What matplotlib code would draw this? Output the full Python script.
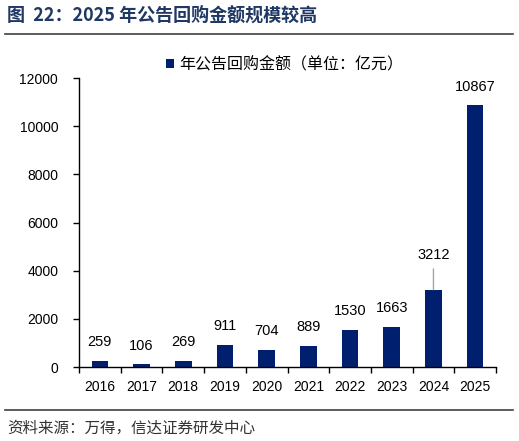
import matplotlib
matplotlib.use("Agg")
import matplotlib.pyplot as plt
from matplotlib.lines import Line2D

# data
years = ["2016", "2017", "2018", "2019", "2020", "2021", "2022", "2023", "2024", "2025"]
amounts = [259, 106, 269, 911, 704, 889, 1530, 1663, 3212, 10867]
yticks = [0, 2000, 4000, 6000, 8000, 10000, 12000]

title = "图  22：2025 年公告回购金额规模较高"
legend_label = "年公告回购金额（单位：亿元）"
source = "资料来源：万得，信达证券研发中心"

cjk = ["Noto Sans CJK SC", "DejaVu Sans"]
num = ["Liberation Sans", "DejaVu Sans"]
bar_color = "#00206F"

fig = plt.figure(figsize=(5.19, 4.41), dpi=100)
ax = fig.add_axes([0.1522, 0.1678, 0.8035, 0.6553])

x = list(range(len(years)))
bars = ax.bar(x, amounts, width=0.4, color=bar_color, label=legend_label)

ax.set_xlim(-0.5, len(years) - 0.5)
ax.set_ylim(0, 12000)
ax.set_yticks(yticks)
ax.set_xticks(x)
ax.set_xticklabels(years, fontfamily=num, fontsize=10)
ax.set_yticklabels([str(v) for v in yticks], fontfamily=num, fontsize=10)
ax.set_xticks([i - 0.5 for i in range(len(years) + 1)], minor=True)
ax.tick_params(axis="x", which="major", length=0, pad=9)
ax.tick_params(axis="x", which="minor", length=4, width=1, direction="out")
ax.tick_params(axis="y", length=4, width=1, direction="out", pad=11)

for s in ["top", "right"]:
    ax.spines[s].set_visible(False)
for s in ["left", "bottom"]:
    ax.spines[s].set_linewidth(1)
    ax.spines[s].set_color("black")

# value labels
for i, v in enumerate(amounts):
    if years[i] == "2024":
        ax.annotate(str(v), xy=(i, v), xytext=(0, 25), textcoords="offset points",
                    ha="center", va="center", fontsize=10.5, fontfamily=num,
                    arrowprops=dict(arrowstyle="-", color="#A6A6A6", lw=1,
                                    shrinkA=3, shrinkB=0))
    else:
        ax.annotate(str(v), xy=(i, v), xytext=(0, 13.5), textcoords="offset points",
                    ha="center", va="center", fontsize=10.5, fontfamily=num)

# legend
fig.legend(handles=[bars], labels=[legend_label], loc="center",
           bbox_to_anchor=(0.548, 0.853), frameon=False,
           prop={"family": cjk, "size": 11.5},
           handlelength=0.5, handleheight=0.5, handletextpad=0.3)

# title and source
fig.text(7 / 519, 1 - 15 / 441, title, ha="left", va="center", fontsize=13,
         fontweight="bold", color="#1F3864", fontfamily=cjk)
fig.add_artist(Line2D([5 / 519, 513 / 519], [1 - 34 / 441, 1 - 34 / 441],
                      color="#404040", lw=1.2))
fig.add_artist(Line2D([5 / 519, 513 / 519], [1 - 410 / 441, 1 - 410 / 441],
                      color="#404040", lw=1.2))
fig.text(7 / 519, 1 - 428 / 441, source, ha="left", va="center", fontsize=11.2,
         color="#333333", fontfamily=cjk)

fig.savefig("out.png", dpi=100)
